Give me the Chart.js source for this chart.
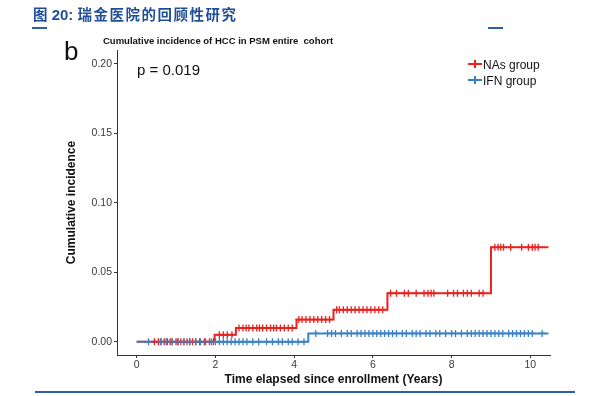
<!DOCTYPE html>
<html>
<head>
<meta charset="utf-8">
<script src="https://cdn.jsdelivr.net/npm/chart.js@4.4.0/dist/chart.umd.min.js"></script>
<style>
  html, body { margin: 0; padding: 0; background: #fff; }
  #wrap { position: relative; width: 596px; height: 396px; overflow: hidden; font-family: "Liberation Sans", Arial, sans-serif; }
  #myChart { position: absolute; left: 0; top: 0; }
  .abs { position: absolute; line-height: 1; white-space: pre; }
  .rule { position: absolute; background: #2f5ea8; }
  .key { position: absolute; width: 14px; height: 2px; }
  .key i { position: absolute; left: 6px; top: -3px; width: 2px; height: 8px; background: inherit; }
</style>
</head>
<body>
<div id="wrap">
  <canvas id="myChart" width="596" height="396"></canvas>

  <div class="abs" style="left:33px;top:7px;color:#1f4e98;font-weight:bold;font-size:14.5px;"><span style="font-family:'Noto Sans CJK SC';">图</span><span style="font-size:15px;"> 20: </span><span style="font-family:'Noto Sans CJK SC';letter-spacing:1.5px;">瑞金医院的回顾性研究</span></div>
  <div class="rule" style="left:32px;top:27px;width:15px;height:2px;"></div>
  <div class="rule" style="left:488px;top:27px;width:15px;height:2px;"></div>
  <div class="rule" style="left:35px;top:391px;width:540px;height:1.5px;"></div>

  <div class="abs" style="left:64px;top:38px;font-size:26px;color:#111;">b</div>
  <div class="abs" style="left:103px;top:36px;font-size:9.5px;font-weight:bold;color:#111;">Cumulative incidence of HCC in PSM entire  cohort</div>
  <div class="abs" style="left:137px;top:61.5px;font-size:15px;color:#111;">p = 0.019</div>

  <div class="key" style="left:468px;top:63px;background:#e8221f;"><i></i></div>
  <div class="abs" style="left:483px;top:59px;font-size:12px;color:#111;">NAs group</div>
  <div class="key" style="left:468px;top:79px;background:#3b80c3;"><i></i></div>
  <div class="abs" style="left:483px;top:75px;font-size:12px;color:#111;">IFN group</div>
</div>

<script>
// step curves (time in years, cumulative incidence)
const naTimes  = [0, 1.98, 2.52, 4.06, 5.0, 6.37, 9.0, 10.46];
const naValues = [0, 0.005, 0.010, 0.016, 0.023, 0.035, 0.068, 0.068];
const ifnTimes  = [0, 4.36, 10.46];
const ifnValues = [0, 0.006, 0.006];

// censoring marks
const naCensor = [0.45, 0.55, 0.62, 0.7, 0.78, 0.85, 0.9, 1.0, 1.05, 1.12, 1.2, 1.28, 1.35, 1.42, 1.5, 1.6, 1.72, 1.85, 1.95,
  2.1, 2.2, 2.3, 2.42,
  2.6, 2.7, 2.78, 2.85, 2.95, 3.05, 3.12, 3.2, 3.3, 3.4, 3.48, 3.55, 3.65, 3.75, 3.85, 3.95,
  4.12, 4.2, 4.3, 4.4, 4.5, 4.6, 4.7, 4.8, 4.9,
  5.08, 5.15, 5.25, 5.35, 5.45, 5.55, 5.65, 5.75, 5.85, 5.95, 6.05, 6.15, 6.25,
  6.45, 6.6, 6.8, 6.9, 7.1, 7.3, 7.4, 7.48, 7.55, 7.9, 8.05, 8.15, 8.3, 8.4, 8.5, 8.7, 8.8,
  9.1, 9.18, 9.25, 9.32, 9.5, 9.78, 9.95, 10.05, 10.12, 10.2];
const ifnCensor = [0.3, 0.6, 0.75, 0.9, 1.05, 1.2, 1.35, 1.5, 1.62, 1.75, 1.9, 2.0, 2.1, 2.2, 2.3, 2.4, 2.5, 2.6, 2.7, 2.8, 2.95,
  3.1, 3.3, 3.45, 3.6, 3.7, 3.85, 3.95, 4.1, 4.25,
  4.55, 4.85, 4.95, 5.05, 5.2, 5.35, 5.45, 5.6, 5.7, 5.8, 5.9, 6.0, 6.1, 6.2, 6.3, 6.4, 6.5, 6.6, 6.75, 6.85,
  7.0, 7.1, 7.2, 7.35, 7.45, 7.6, 7.7, 7.85, 8.0, 8.1, 8.25, 8.4, 8.5, 8.6, 8.7, 8.8, 8.9, 9.0, 9.1, 9.2, 9.3,
  9.45, 9.55, 9.65, 9.75, 9.85, 9.95, 10.05, 10.3];

const xTicks = [0, 2, 4, 6, 8, 10];
const yTicks = [0, 0.05, 0.10, 0.15, 0.20];

const RED = "#e8221f";
const BLUE = "#3b80c3";

function stepAt(times, values, t) {
  let v = values[0];
  for (let i = 0; i < times.length; i++) if (times[i] <= t) v = values[i];
  return v;
}
const toPts = (xs, ys) => xs.map((x, i) => ({ x: x, y: ys[i] }));
const censorPts = (cs, times, values) => cs.map(t => ({ x: t, y: stepAt(times, values, t) }));

const FONT = "'Liberation Sans', Arial, sans-serif";

new Chart(document.getElementById("myChart"), {
  type: "scatter",
  data: {
    datasets: [
      { data: censorPts(ifnCensor, ifnTimes, ifnValues), pointStyle: "cross", pointRadius: 3.5, borderColor: BLUE, borderWidth: 1.3, showLine: false },
      { data: censorPts(naCensor, naTimes, naValues), pointStyle: "cross", pointRadius: 3.5, borderColor: RED, borderWidth: 1.3, showLine: false },
      { data: toPts(ifnTimes, ifnValues), showLine: true, stepped: true, borderColor: BLUE, borderWidth: 2, pointRadius: 0 },
      { data: toPts(naTimes, naValues), showLine: true, stepped: true, borderColor: RED, borderWidth: 2, pointRadius: 0 }
    ]
  },
  options: {
    responsive: false,
    animation: false,
    layout: { padding: { left: 60, top: 50, right: 46, bottom: 8 } },
    plugins: { legend: { display: false }, tooltip: { enabled: false } },
    scales: {
      x: {
        type: "linear", min: -0.5, max: 10.5,
        afterBuildTicks: s => { s.ticks = xTicks.map(v => ({ value: v })); },
        afterFit: s => { s.height = 33; },
        grid: { drawOnChartArea: false, tickLength: 3, tickColor: "#333" },
        border: { color: "#333", width: 1 },
        ticks: { padding: 1, color: "#3a3a3a", font: { family: FONT, size: 10.5 }, callback: v => String(v) },
        title: { display: true, text: "Time elapsed since enrollment (Years)", color: "#111", padding: { top: 0, bottom: 1 }, font: { family: FONT, size: 12, weight: "bold" } }
      },
      y: {
        type: "linear", min: -0.0095, max: 0.21,
        afterBuildTicks: s => { s.ticks = yTicks.map(v => ({ value: v })); },
        afterFit: s => { s.width = 57; },
        grid: { drawOnChartArea: false, tickLength: 3, tickColor: "#333" },
        border: { color: "#333", width: 1 },
        ticks: { padding: 2, color: "#3a3a3a", font: { family: FONT, size: 10.5 }, callback: v => Number(v).toFixed(2) },
        title: { display: true, text: "Cumulative incidence", color: "#111", font: { family: FONT, size: 12, weight: "bold" } }
      }
    }
  }
});
</script>
</body>
</html>
